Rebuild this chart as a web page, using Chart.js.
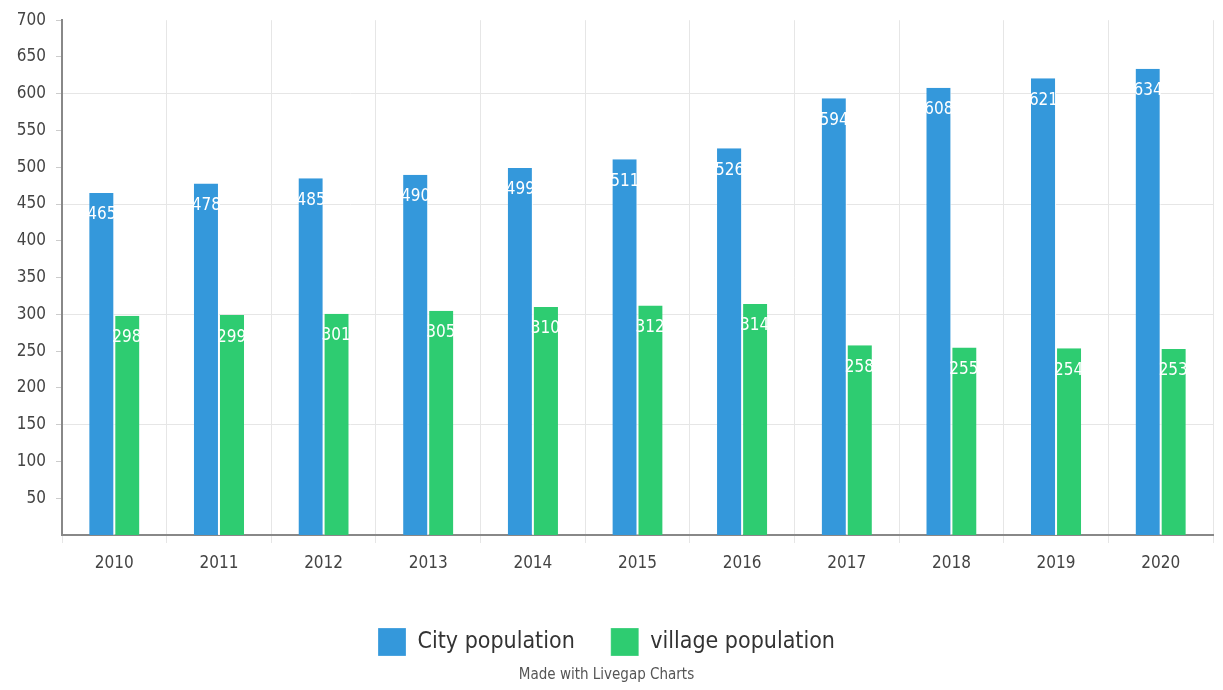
<!DOCTYPE html>
<html>
<head>
<meta charset="utf-8">
<script src="https://cdn.jsdelivr.net/npm/chart.js@4.4.0/dist/chart.umd.min.js"></script>
<style>
  html, body { margin: 0; padding: 0; background: #fff; }
  #wrap { width: 1223px; height: 690px; }
</style>
</head>
<body>
<div id="wrap"><canvas id="chart" width="1223" height="690"></canvas></div>
<script>
const years = ['2010', '2011', '2012', '2013', '2014', '2015', '2016', '2017', '2018', '2019', '2020'];
const cityPopulation = [465, 478, 485, 490, 499, 511, 526, 594, 608, 621, 634];
const villagePopulation = [298, 299, 301, 305, 310, 312, 314, 258, 255, 254, 253];
const yTicks = [50, 100, 150, 200, 250, 300, 350, 400, 450, 500, 550, 600, 650, 700];

const FONT = "'Liberation Sans Narrow', 'DejaVu Sans Condensed', sans-serif";

// white value labels drawn inside the top of each bar
const barLabels = {
    id: 'barLabels',
    afterDatasetsDraw(chart) {
        const ctx = chart.ctx;
        ctx.save();
        ctx.fillStyle = '#fff';
        ctx.font = '17px ' + FONT;
        ctx.textAlign = 'center';
        ctx.textBaseline = 'middle';
        chart.data.datasets.forEach((ds, i) => {
            chart.getDatasetMeta(i).data.forEach((bar, j) => {
                ctx.fillText(ds.data[j], bar.x, bar.y + 22);
            });
        });
        ctx.restore();
    }
};

new Chart(document.querySelector('#chart').getContext('2d'), {
    type: 'bar',
    data: {
        labels: years,
        datasets: [
            {
                label: 'City population',
                data: cityPopulation,
                backgroundColor: '#3498db',
                borderColor: '#fff',
                borderWidth: {left: 0, right: 1, top: 0, bottom: 0},
                categoryPercentage: 0.48,
                barPercentage: 1
            },
            {
                label: 'village population',
                data: villagePopulation,
                backgroundColor: '#2ecc71',
                borderColor: '#fff',
                borderWidth: {left: 1, right: 0, top: 0, bottom: 0},
                categoryPercentage: 0.48,
                barPercentage: 1
            }
        ]
    },
    options: {
        responsive: false,
        animation: false,
        layout: { padding: { top: 15, right: 10, left: 0, bottom: 4 } },
        scales: {
            x: {
                grid: {
                    color: '#e6e6e6',
                    lineWidth: 1,
                    offset: true,
                    drawTicks: true,
                    tickLength: 8
                },
                border: { color: '#888', width: 2 },
                ticks: { color: '#444', font: { family: FONT, size: 17 }, padding: 10 },
                afterFit: s => { s.height = 57; }
            },
            y: {
                min: 0,
                max: 700,
                afterBuildTicks: s => { s.ticks = yTicks.map(v => ({value: v})); },
                grid: {
                    color: ctx => (ctx.tick && ctx.tick.value % 150 === 0) ? '#e6e6e6' : 'rgba(0,0,0,0)',
                    tickColor: '#ccc',
                    tickLength: 6
                },
                border: { color: '#888', width: 2 },
                ticks: { color: '#444', font: { family: FONT, size: 17 }, padding: 10 },
                afterFit: s => { s.width = 62; }
            }
        },
        plugins: {
            legend: {
                position: 'bottom',
                labels: {
                    color: '#333',
                    font: { family: FONT, size: 23 },
                    boxWidth: 28,
                    boxHeight: 28,
                    padding: 36
                }
            },
            title: {
                display: true,
                position: 'bottom',
                text: 'Made with Livegap Charts',
                color: '#555',
                font: { family: FONT, size: 15, weight: 'normal' },
                padding: { top: 0, bottom: 2 }
            },
            tooltip: { enabled: false }
        }
    },
    plugins: [barLabels]
});
</script>
</body>
</html>
